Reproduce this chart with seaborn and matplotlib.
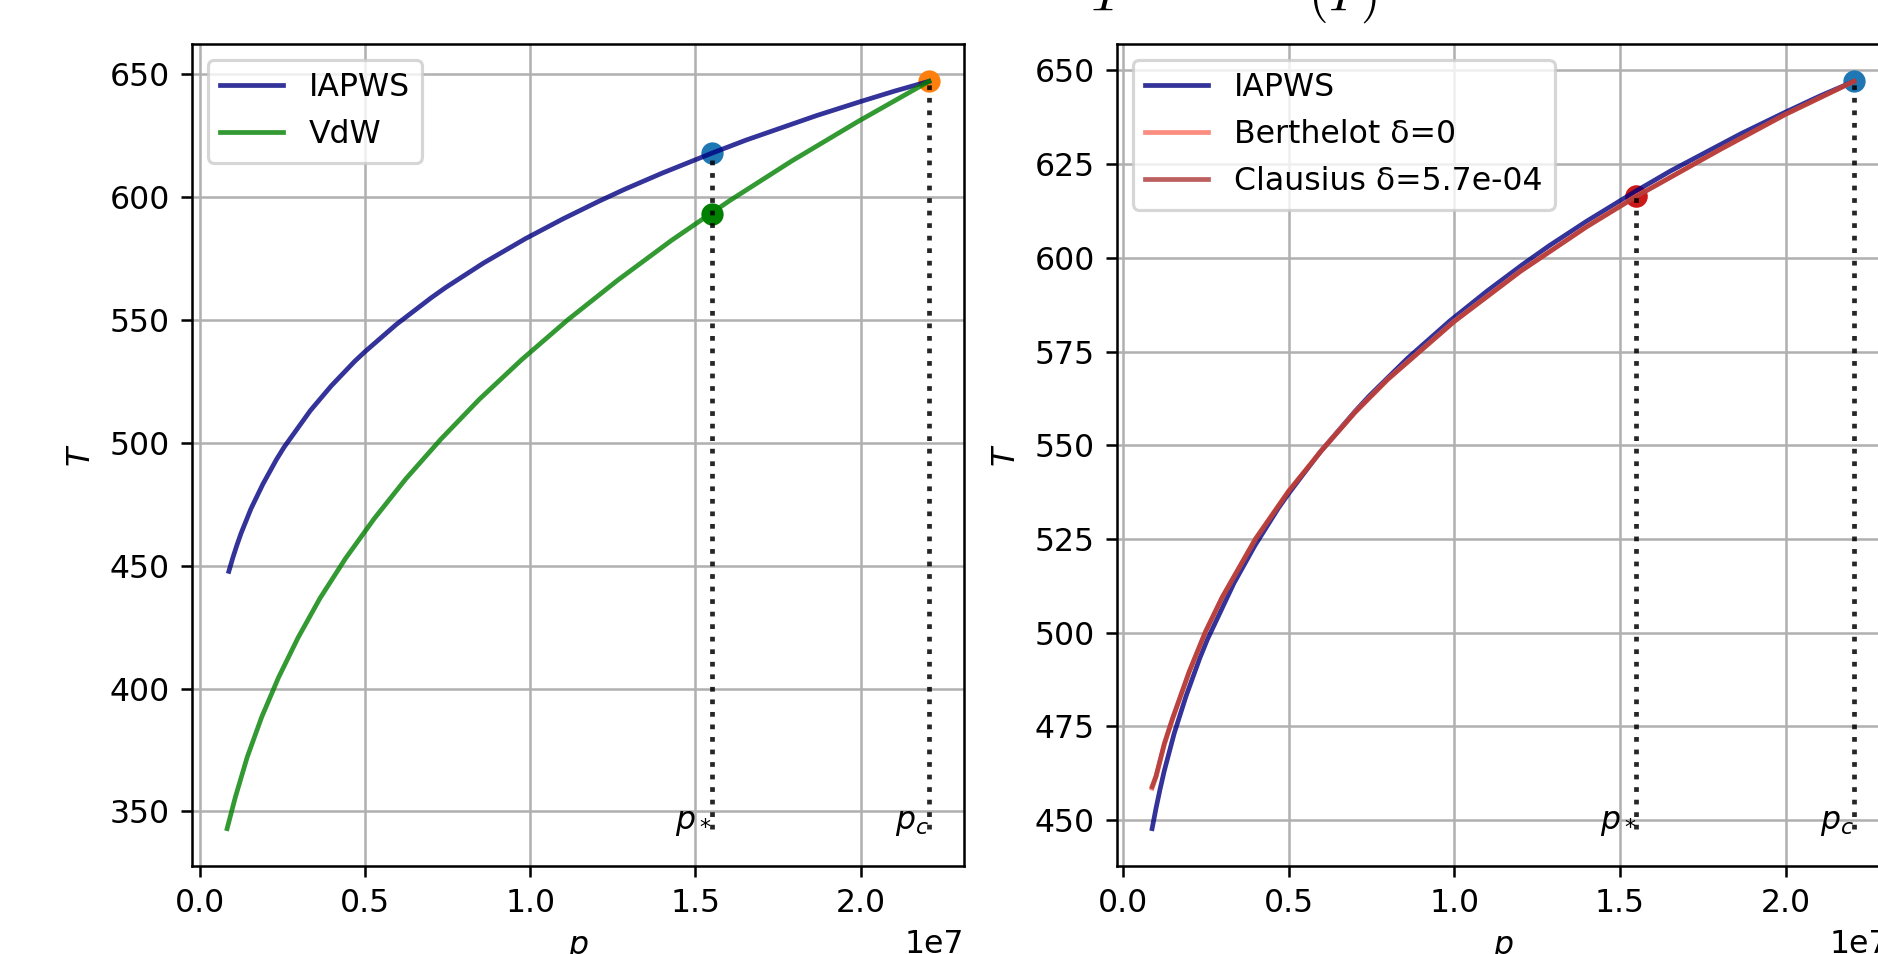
import matplotlib
matplotlib.use('Agg')
import matplotlib.pyplot as plt
import seaborn as sns

# saturation curves, p in Pa, T in K
p_iapws = [0.88e6, 1.0e6, 1.12e6, 1.25e6, 1.40e6, 1.55e6, 1.91e6, 2.32e6, 2.55e6, 3.35e6, 3.98e6,
           4.69e6, 5.0e6, 5.95e6, 7.0e6, 7.44e6, 8.59e6, 9.87e6, 11.0e6, 12.06e6, 12.86e6, 14.0e6,
           15.5e6, 16.53e6, 18.67e6, 20.0e6, 21.04e6, 22.064e6]
T_iapws = [447.7, 453.2, 458.2, 463.2, 468.2, 473.2, 483.2, 493.2, 498.2, 513.2, 523.2,
           533.2, 537.1, 548.2, 559.0, 563.2, 573.2, 583.2, 591.2, 598.2, 603.2, 609.8,
           617.9, 623.2, 633.2, 638.9, 643.2, 647.1]

p_vdw = [0.827e6, 1.079e6, 1.436e6, 1.871e6, 2.38e6, 2.970e6, 3.64e6, 4.413e6, 5.276e6,
         6.233e6, 7.297e6, 8.459e6, 9.746e6, 11.131e6, 12.649e6, 14.276e6, 16.039e6,
         17.914e6, 19.935e6, 22.064e6]
T_vdw = [343.0, 355.9, 372.1, 388.3, 404.4, 420.6, 436.8, 453.0, 469.1,
         485.3, 501.5, 517.7, 533.9, 550.0, 566.2, 582.4, 598.6,
         614.7, 630.9, 647.1]

p_model = [0.88e6, 1.0e6, 1.25e6, 1.5e6, 2.0e6, 2.5e6, 3.0e6, 4.0e6, 5.0e6, 6.0e6, 7.0e6,
           8.0e6, 10.0e6, 12.0e6, 14.0e6, 15.5e6, 18.0e6, 20.0e6, 22.064e6]
T_berthelot = [458.5, 461.5, 470.2, 477.0, 489.5, 500.4, 509.5, 525.0, 537.8, 548.7, 558.8,
               567.7, 583.1, 596.5, 608.4, 616.5, 628.8, 638.3, 647.1]
T_clausius = [458.9, 461.8, 470.4, 477.2, 489.6, 500.4, 509.5, 525.0, 537.7, 548.6, 558.7,
              567.6, 583.0, 596.4, 608.3, 616.4, 628.8, 638.3, 647.1]

# marked points
p_star = 15.5e6
p_crit = 22.064e6
T_crit = 647.1
T_star_iapws = 617.9
T_star_vdw = 593.2
T_star_model = 616.5

dpi = 227
fig = plt.figure(figsize=(1878 / dpi, 954 / dpi), dpi=dpi)
ax1 = fig.add_axes([192 / 1878, 1 - 866 / 954, 772 / 1878, 822 / 954])
ax2 = fig.add_axes([1117 / 1878, 1 - 866 / 954, 772 / 1878, 822 / 954])

# left: IAPWS vs van der Waals
sns.lineplot(x=p_iapws, y=T_iapws, color='navy', alpha=0.8, label='IAPWS', ax=ax1)
sns.lineplot(x=p_vdw, y=T_vdw, color='green', alpha=0.8, label='VdW', ax=ax1)
sns.scatterplot(x=[p_star], y=[T_star_iapws], color='C0', s=50, linewidth=0, ax=ax1)
sns.scatterplot(x=[p_star], y=[T_star_vdw], color='green', s=50, linewidth=0, ax=ax1)
sns.scatterplot(x=[p_crit], y=[T_crit], color='C1', s=50, linewidth=0, ax=ax1)
ymin1 = min(T_vdw)
ax1.vlines([p_star, p_crit], ymin1, [T_star_iapws, T_crit], colors='k', linestyles=':', alpha=0.85)
ax1.text(p_star, ymin1, r'$p_*$', ha='right')
ax1.text(p_crit, ymin1, r'$p_c$', ha='right')

# right: IAPWS vs Berthelot / Clausius
sns.lineplot(x=p_iapws, y=T_iapws, color='navy', alpha=0.8, label='IAPWS', ax=ax2)
sns.lineplot(x=p_model, y=T_berthelot, color='salmon', alpha=0.9, label='Berthelot δ=0', ax=ax2)
sns.lineplot(x=p_model, y=T_clausius, color='brown', alpha=0.75, label='Clausius δ=5.7e-04', ax=ax2)
sns.scatterplot(x=[p_star], y=[T_star_model], color='red', s=50, linewidth=0, ax=ax2)
sns.scatterplot(x=[p_star], y=[T_star_model], color='brown', s=50, linewidth=0, alpha=0.6, ax=ax2)
sns.scatterplot(x=[p_crit], y=[T_crit], color='C0', s=50, linewidth=0, ax=ax2)
ymin2 = min(T_iapws)
ax2.vlines([p_star, p_crit], ymin2, [T_star_iapws, T_crit], colors='k', linestyles=':', alpha=0.85)
ax2.text(p_star, ymin2, r'$p_*$', ha='right')
ax2.text(p_crit, ymin2, r'$p_c$', ha='right')

for ax in (ax1, ax2):
    ax.grid(True)
    ax.set_axisbelow(True)
    ax.set_xlabel('$p$')
    ax.set_ylabel('$T$')
    ax.legend(loc='upper left')

fig.text(1090 / 1878, 1 - 10 / 954, r'$T \qquad\qquad\; (P)$', ha='left', va='baseline',
         fontsize=16, math_fontfamily='cm')

fig.savefig('out.png', dpi=dpi)
